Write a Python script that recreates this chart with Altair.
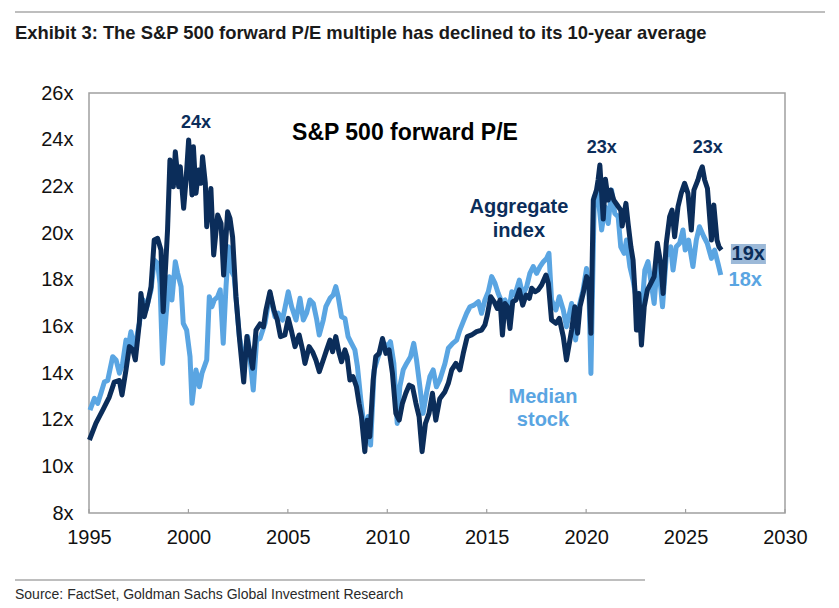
import altair as alt
import pandas as pd

# ---------------- data ----------------
agg_years = [1995.02, 1995.35, 1995.69, 1996.02, 1996.27, 1996.53, 1996.66, 1996.86, 1997.03, 1997.20,
             1997.33, 1997.53, 1997.61, 1997.78, 1997.95, 1998.12, 1998.28, 1998.45, 1998.62, 1998.73,
             1998.95, 1999.07, 1999.24, 1999.34, 1999.51, 1999.59, 1999.76, 1999.88, 2000.01, 2000.18,
             2000.25, 2000.38, 2000.51, 2000.63, 2000.71, 2000.85, 2000.92, 2001.13, 2001.27, 2001.47,
             2001.64, 2001.77, 2001.97, 2002.09, 2002.22, 2002.39, 2002.59, 2002.78, 2002.94, 2003.06,
             2003.23, 2003.40, 2003.60, 2003.77, 2003.90, 2004.10, 2004.30, 2004.47, 2004.63, 2004.85,
             2005.02, 2005.19, 2005.36, 2005.57, 2005.74, 2005.86, 2006.07, 2006.24, 2006.41, 2006.58,
             2006.78, 2006.95, 2007.12, 2007.25, 2007.41, 2007.58, 2007.70, 2007.87, 2007.98, 2008.12,
             2008.28, 2008.45, 2008.58, 2008.70, 2008.87, 2008.99, 2009.12, 2009.29, 2009.42, 2009.59,
             2009.76, 2009.93, 2010.09, 2010.26, 2010.43, 2010.60, 2010.76, 2010.93, 2011.10, 2011.27,
             2011.44, 2011.60, 2011.75, 2011.92, 2012.10, 2012.27, 2012.44, 2012.64, 2012.90, 2013.07,
             2013.24, 2013.45, 2013.65, 2013.82, 2014.02, 2014.24, 2014.49, 2014.74, 2014.91, 2015.03,
             2015.20, 2015.37, 2015.53, 2015.67, 2015.79, 2015.92, 2016.04, 2016.17, 2016.31, 2016.47,
             2016.64, 2016.81, 2016.98, 2017.14, 2017.26, 2017.43, 2017.59, 2017.76, 2017.98, 2018.10,
             2018.26, 2018.48, 2018.65, 2018.85, 2019.01, 2019.27, 2019.43, 2019.57, 2019.69, 2019.85,
             2020.02, 2020.14, 2020.24, 2020.36, 2020.52, 2020.60, 2020.69, 2020.86, 2020.97, 2021.11,
             2021.24, 2021.39, 2021.56, 2021.74, 2021.81, 2022.00, 2022.11, 2022.25, 2022.36, 2022.45,
             2022.53, 2022.65, 2022.78, 2022.92, 2023.08, 2023.25, 2023.42, 2023.58, 2023.75, 2023.87,
             2024.03, 2024.20, 2024.32, 2024.45, 2024.62, 2024.78, 2024.95, 2025.12, 2025.29, 2025.42,
             2025.62, 2025.71, 2025.84, 2025.96, 2026.10, 2026.20, 2026.30, 2026.42, 2026.58, 2026.68,
             2026.80]
agg_pe = [11.13, 11.85, 12.41, 12.97, 13.61, 13.68, 13.06, 14.13, 15.13, 15.00,
          14.56, 16.13, 17.41, 16.41, 16.99, 17.70, 19.70, 19.77, 19.27, 16.63,
          20.13, 23.13, 21.98, 23.48, 21.98, 22.84, 21.06, 22.27, 23.99, 21.63,
          23.70, 21.70, 22.70, 22.13, 23.27, 22.13, 20.27, 21.91, 19.06, 20.77,
          20.41, 18.20, 20.91, 20.63, 19.84, 17.27, 15.27, 13.61, 15.56, 15.00,
          14.20, 15.84, 16.10, 15.98, 16.70, 17.48, 16.70, 16.27, 15.56, 15.63,
          16.34, 15.77, 15.13, 15.63, 14.99, 14.41, 15.13, 14.91, 14.56, 14.06,
          14.56, 14.99, 15.41, 14.91, 15.56, 14.84, 14.48, 14.99, 14.70, 13.70,
          13.84, 13.41, 12.70, 12.13, 10.63, 11.98, 11.27, 13.70, 14.70, 14.84,
          15.48, 14.84, 14.99, 13.98, 12.27, 11.98, 12.70, 13.13, 13.48, 13.41,
          12.70, 12.13, 10.63, 11.84, 12.27, 13.13, 11.98, 12.90, 13.20, 13.56,
          14.13, 14.41, 14.13, 14.84, 15.56, 15.63, 15.77, 15.84, 16.06, 16.48,
          17.27, 17.06, 16.77, 17.13, 15.63, 16.98, 16.84, 15.91, 17.06, 17.13,
          17.56, 16.91, 17.34, 17.20, 17.63, 17.48, 17.56, 17.77, 18.20, 17.84,
          16.27, 16.13, 16.34, 15.56, 14.56, 15.84, 16.84, 15.70, 16.84, 17.41,
          18.13, 17.84, 15.70, 21.41, 21.84, 22.27, 22.91, 20.60, 22.30, 21.41,
          21.84, 21.41, 21.20, 20.98, 20.30, 21.27, 20.41, 19.41, 18.84, 17.56,
          15.84, 17.41, 15.20, 16.84, 17.56, 17.84, 18.13, 19.56, 18.70, 17.41,
          19.56, 20.70, 20.98, 19.84, 21.13, 21.70, 22.13, 21.70, 20.13, 21.84,
          22.27, 22.56, 22.84, 22.27, 21.91, 20.80, 19.70, 21.20, 19.70, 19.41,
          19.27]

med_years = [1995.05, 1995.27, 1995.44, 1995.60, 1995.77, 1995.94, 1996.19, 1996.36, 1996.53, 1996.69,
             1996.86, 1997.00, 1997.11, 1997.28, 1997.53, 1997.73, 1997.87, 1998.12, 1998.28, 1998.45,
             1998.57, 1998.70, 1998.87, 1999.04, 1999.17, 1999.34, 1999.46, 1999.63, 1999.74, 1999.91,
             2000.08, 2000.18, 2000.38, 2000.55, 2000.68, 2000.80, 2000.92, 2001.05, 2001.18, 2001.30,
             2001.47, 2001.60, 2001.75, 2001.89, 2002.02, 2002.14, 2002.30, 2002.56, 2002.81, 2002.98,
             2003.14, 2003.26, 2003.43, 2003.60, 2003.85, 2004.10, 2004.35, 2004.52, 2004.73, 2005.02,
             2005.19, 2005.41, 2005.61, 2005.78, 2005.94, 2006.11, 2006.28, 2006.44, 2006.58, 2006.78,
             2006.91, 2007.12, 2007.28, 2007.41, 2007.53, 2007.70, 2007.87, 2008.03, 2008.20, 2008.37,
             2008.50, 2008.67, 2008.87, 2009.04, 2009.16, 2009.34, 2009.49, 2009.66, 2009.83, 2010.00,
             2010.16, 2010.33, 2010.50, 2010.63, 2010.80, 2010.97, 2011.17, 2011.33, 2011.47, 2011.64,
             2011.80, 2011.97, 2012.14, 2012.31, 2012.47, 2012.64, 2012.90, 2013.07, 2013.29, 2013.49,
             2013.65, 2013.82, 2013.99, 2014.16, 2014.36, 2014.58, 2014.74, 2014.91, 2015.08, 2015.25,
             2015.42, 2015.58, 2015.75, 2015.92, 2016.09, 2016.26, 2016.42, 2016.64, 2016.81, 2017.01,
             2017.17, 2017.34, 2017.51, 2017.68, 2017.85, 2018.01, 2018.13, 2018.26, 2018.48, 2018.65,
             2018.85, 2019.01, 2019.27, 2019.47, 2019.64, 2019.85, 2020.02, 2020.14, 2020.24, 2020.41,
             2020.58, 2020.78, 2020.95, 2021.11, 2021.28, 2021.44, 2021.61, 2021.74, 2021.91, 2022.03,
             2022.20, 2022.36, 2022.53, 2022.65, 2022.81, 2022.95, 2023.11, 2023.25, 2023.42, 2023.58,
             2023.70, 2023.84, 2024.03, 2024.25, 2024.37, 2024.53, 2024.70, 2024.87, 2024.98, 2025.15,
             2025.37, 2025.54, 2025.70, 2025.92, 2026.09, 2026.30, 2026.46, 2026.63, 2026.77]
med_pe = [12.41, 12.91, 12.70, 13.13, 13.61, 13.68, 14.70, 14.56, 13.99, 14.41,
          15.41, 15.27, 15.77, 14.99, 16.13, 17.13, 16.70, 17.56, 18.84, 18.70,
          17.84, 14.41, 16.41, 18.13, 17.13, 18.77, 18.27, 17.70, 16.13, 15.84,
          14.70, 12.70, 14.13, 13.41, 13.99, 14.27, 14.56, 17.27, 16.84, 17.13,
          17.27, 17.56, 15.27, 17.70, 19.41, 18.41, 18.13, 15.56, 14.41, 15.56,
          14.27, 13.27, 15.41, 15.48, 16.13, 17.41, 16.41, 16.56, 16.27, 17.48,
          16.84, 16.27, 17.20, 16.27, 16.56, 17.13, 16.98, 16.34, 15.63, 16.27,
          16.84, 17.20, 17.34, 17.70, 17.27, 16.41, 16.34, 15.56, 15.27, 14.99,
          14.27, 12.84, 11.41, 12.13, 10.91, 14.13, 14.56, 14.99, 15.27, 15.13,
          15.34, 14.41, 11.84, 13.41, 14.13, 14.41, 14.70, 15.27, 14.56, 13.41,
          12.27, 13.13, 13.84, 14.13, 13.41, 13.70, 14.41, 15.06, 15.27, 15.41,
          15.84, 16.20, 16.56, 16.84, 16.91, 17.06, 16.56, 17.13, 17.48, 18.13,
          17.84, 17.41, 17.06, 17.13, 16.56, 17.48, 17.34, 17.98, 17.34, 17.70,
          18.27, 18.56, 18.27, 18.56, 18.77, 18.91, 19.13, 17.13, 16.70, 17.27,
          16.70, 15.98, 16.98, 15.41, 16.84, 17.56, 18.48, 17.56, 13.98, 21.56,
          21.70, 20.13, 21.13, 20.41, 21.84, 20.84, 20.70, 19.41, 19.13, 19.70,
          18.56, 17.98, 17.13, 17.41, 16.84, 18.41, 18.77, 17.98, 16.98, 18.70,
          18.13, 16.84, 18.98, 19.41, 18.41, 19.41, 19.56, 20.13, 19.27, 19.70,
          18.56, 19.70, 20.27, 19.84, 19.56, 18.91, 19.27, 18.70, 18.20]

x_ticks = [1995, 2000, 2005, 2010, 2015, 2020, 2025, 2030]
y_ticks = [8, 10, 12, 14, 16, 18, 20, 22, 24, 26]

title_text = "Exhibit 3: The S&P 500 forward P/E multiple has declined to its 10-year average"
source_text = "Source: FactSet, Goldman Sachs Global Investment Research"
chart_label = "S&P 500 forward P/E"

peak_years = [2000.38, 2020.79, 2026.12]
peak_pe = [24.71, 23.64, 23.64]
peak_text = ["24x", "23x", "23x"]

agg_label_years = [2016.62, 2016.62]
agg_label_pe = [21.11, 20.08]
agg_label_text = ["Aggregate", "index"]

med_label_years = [2017.83, 2017.83]
med_label_pe = [12.97, 11.98]
med_label_text = ["Median", "stock"]

end_agg = {"year": 2028.15, "pe": 19.1, "text": "19x"}
end_med = {"year": 2028.0, "pe": 17.98, "text": "18x"}
end_box = {"x1": 2027.28, "x2": 2029.04, "y1": 18.67, "y2": 19.53}

# ---------------- styling ----------------
NAVY = "#0b2d5a"
LIGHT = "#5aa5e2"
BOX = "#9cb9d8"
FRAME = "#a0a0a0"
FONT = "Liberation Sans"

W, H = 696, 420

x_scale = alt.Scale(domain=[1995, 2030], nice=False, zero=False)
y_scale = alt.Scale(domain=[8, 26], nice=False, zero=False)

x_axis = alt.Axis(values=x_ticks, format="d", title=None, grid=False, domain=False, ticks=False,
                  labelFont=FONT, labelFontSize=20, labelColor="#111111", labelPadding=14,
                  labelFlush=False, labelOverlap=False)
y_axis = alt.Axis(values=y_ticks, labelExpr="datum.value + 'x'", title=None, grid=False,
                  domain=False, ticks=False, labelFont=FONT, labelFontSize=20,
                  labelColor="#111111", labelPadding=16, labelFlush=False, labelOverlap=False)


def X(field):
    return alt.X(field, scale=x_scale, axis=x_axis, title=None)


def Y(field):
    return alt.Y(field, scale=y_scale, axis=y_axis, title=None)


agg_df = pd.DataFrame({"year": agg_years, "pe": agg_pe})
med_df = pd.DataFrame({"year": med_years, "pe": med_pe})

med_line = alt.Chart(med_df).mark_line(color=LIGHT, strokeWidth=5, strokeJoin="round").encode(
    x=X("year:Q"), y=Y("pe:Q"))
agg_line = alt.Chart(agg_df).mark_line(color=NAVY, strokeWidth=5, strokeJoin="round").encode(
    x=X("year:Q"), y=Y("pe:Q"))

# inward tick marks on the x axis
tick_df = pd.DataFrame({"year": x_ticks})
ticks = alt.Chart(tick_df).mark_rule(color=FRAME, strokeWidth=1.2).encode(
    x=X("year:Q"), y=alt.value(H), y2=alt.value(H - 4))


def text_layer(years, pes, texts, color, size, bold=True, align="center"):
    df = pd.DataFrame({"year": years, "pe": pes, "t": texts})
    return alt.Chart(df).mark_text(color=color, fontSize=size, font=FONT,
                                   fontWeight="bold" if bold else "normal",
                                   align=align, baseline="middle").encode(
        x=X("year:Q"), y=Y("pe:Q"), text="t:N")


chart_title_in = text_layer([2010.89], [24.29], [chart_label], "#000000", 23)
peaks = text_layer(peak_years, peak_pe, peak_text, NAVY, 18)
agg_lab = text_layer(agg_label_years, agg_label_pe, agg_label_text, NAVY, 20)
med_lab = text_layer(med_label_years, med_label_pe, med_label_text, LIGHT, 20)

box_df = pd.DataFrame([end_box])
box = alt.Chart(box_df).mark_rect(color=BOX).encode(
    x=X("x1:Q"), x2="x2:Q", y=Y("y1:Q"), y2="y2:Q")
end1 = text_layer([end_agg["year"]], [end_agg["pe"]], [end_agg["text"]], NAVY, 20)
end2 = text_layer([end_med["year"]], [end_med["pe"]], [end_med["text"]], LIGHT, 20)

# page furniture: header, rules, source
hdr = alt.Chart(pd.DataFrame({"t": [title_text]})).mark_text(
    font=FONT, fontSize=18.4, fontWeight="bold", color="#1a1a1a", align="left", baseline="middle"
).encode(x=alt.value(-74), y=alt.value(-60), text="t:N")
src = alt.Chart(pd.DataFrame({"t": [source_text]})).mark_text(
    font=FONT, fontSize=14, color="#2a2a2a", align="left", baseline="middle"
).encode(x=alt.value(-74), y=alt.value(502), text="t:N")
top_rule = alt.Chart(pd.DataFrame({"a": [0]})).mark_rule(color="#a8a8a8", strokeWidth=1.5).encode(
    x=alt.value(-74), x2=alt.value(736), y=alt.value(-81))
bot_rule = alt.Chart(pd.DataFrame({"a": [0]})).mark_rule(color="#a8a8a8", strokeWidth=1.5).encode(
    x=alt.value(-74), x2=alt.value(556), y=alt.value(487))

chart = alt.layer(
    med_line, agg_line, ticks, chart_title_in, peaks, agg_lab, med_lab, box, end1, end2,
    hdr, src, top_rule, bot_rule,
).properties(
    width=W, height=H,
    autosize=alt.AutoSizeParams(type="none"),
    padding={"left": 81, "top": 85, "right": 40, "bottom": 90},
    background="white",
).configure_view(
    stroke=FRAME, strokeWidth=1.5,
)

chart.save("out.html", embed_options={"renderer": "svg", "actions": False})
